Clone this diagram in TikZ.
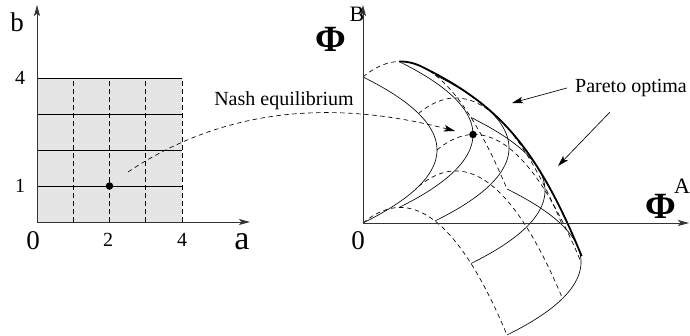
\documentclass[tikz,border=0pt]{standalone}
\usepackage{fontspec}
\setmainfont{Liberation Serif}
\usetikzlibrary{arrows.meta}
\begin{document}
\begin{tikzpicture}[x=1pt,y=1pt,
  ax/.style={line width=0.9pt, draw=black!80, -{Stealth[length=11pt,width=6pt,inset=2.5pt]}},
  gsolid/.style={line width=0.65pt},
  gdash/.style={line width=0.65pt, dash pattern=on 4.5pt off 3.5pt},
  pareto/.style={line width=1.8pt, line join=round},
  callout/.style={line width=0.65pt, -{Stealth[length=11pt,width=6.5pt,inset=2.5pt]}},
  nasharrow/.style={line width=0.65pt, dash pattern=on 4.5pt off 3.5pt, -{Stealth[length=11pt,width=6.5pt,inset=2.5pt]}},
  biglab/.style={font=\fontsize{27}{29}\selectfont, inner sep=0pt},
  alab/.style={font=\fontsize{34}{36}\selectfont, inner sep=0pt},
  smalllab/.style={font=\fontsize{20}{22}\selectfont, inner sep=0pt},
  philab/.style={font=\fontsize{37}{39}\selectfont\bfseries, inner sep=0pt},
  suplab/.style={font=\fontsize{22}{24}\selectfont, inner sep=0pt},
  dot/.style={circle, fill=black, inner sep=0pt, minimum size=7.5pt},
  ]
\useasboundingbox (0,0) rectangle (690,336);
% ---------------- left panel ----------------
\coordinate (O1) at (37,114);
\coordinate (btip) at (37,331);
\coordinate (atip) at (250,114);
\fill[black!10] (37,114) rectangle (182,258);
\foreach \k in {1,...,4} {
  \draw[gsolid] (37,{114+36*\k}) -- (182,{114+36*\k});
  \draw[gdash] ({37+36.25*\k},114) -- ({37+36.25*\k},258);
}
\draw[ax] (O1) -- (btip);
\draw[ax] (O1) -- (atip);
\node[dot] (ne1) at (109.5,150) {};
\node[biglab, anchor=base] (lb) at (17,304) {b};
\node[smalllab] (l4y) at (20,258) {4};
\node[smalllab] (l1y) at (20,150) {1};
\node[biglab, anchor=base] (l0a) at (33,86) {0};
\node[smalllab, anchor=base] (l2x) at (108,89) {2};
\node[smalllab, anchor=base] (l4x) at (182,89) {4};
\node[alab, anchor=base] (la) at (242,86) {a};
% ---------------- right panel ----------------
\coordinate (O2) at (363,113);
\coordinate (pbtip) at (363,331);
\coordinate (patip) at (689,113);
% solid curves: b = const
\foreach \k in {0,...,4} {
  \draw[gsolid] plot[domain=0:4, samples=80, variable=\t, smooth]
    ({363+18.5*\t*(4-\t)+36*\k}, {113+36.5*\t+30*\k-14.5*\k*\k});
}
% dashed curves: a = const
\foreach \k in {0,...,4} {
  \draw[gdash] plot[domain=0:4, samples=80, variable=\t, smooth]
    ({363+18.5*\k*(4-\k)+36*\t}, {113+36.5*\k+30*\t-14.5*\t*\t});
}
% Pareto front
\draw[pareto] plot[domain=1:1.646, samples=20, variable=\t, smooth]
    ({363+36*\t}, {113+146+30*\t-14.5*\t*\t})
  -- plot[domain=1.646:4.1, samples=80, variable=\t, smooth]
    ({363+18.5*(4-(35.51/(30-29*\t))^2)+36*\t}, {113+36.5*(2-35.51/(30-29*\t))+30*\t-14.5*\t*\t});
\draw[ax] (O2) -- (pbtip);
\draw[ax] (O2) -- (patip);
\node[dot] (ne2) at (473,201.5) {};
\node[biglab, anchor=base] (r0) at (358,86) {0};
\node[philab, anchor=base] (phib) at (331,284) {Φ};
\node[suplab, anchor=base] (supb) at (357,314) {B};
\node[philab, anchor=base] (phia) at (661,117) {Φ};
\node[suplab, anchor=base] (supa) at (682,142) {A};
% Nash equilibrium callout
\node[smalllab] (nashlab) at (284,235) {Nash equilibrium};
\coordinate (nashs) at (128,164);
\coordinate (nashe) at (455,205);
\draw[nasharrow] (nashs) .. controls (215,222) and (320,240) .. (nashe);
% Pareto optima callout
\node[smalllab] (polab) at (631,248) {Pareto optima};
\coordinate (po1s) at (567,248);
\coordinate (po1e) at (512,233);
\coordinate (po2s) at (610,224);
\coordinate (po2e) at (558,170);
\draw[callout] (po1s) -- (po1e);
\draw[callout] (po2s) -- (po2e);
\end{tikzpicture}
\end{document}
